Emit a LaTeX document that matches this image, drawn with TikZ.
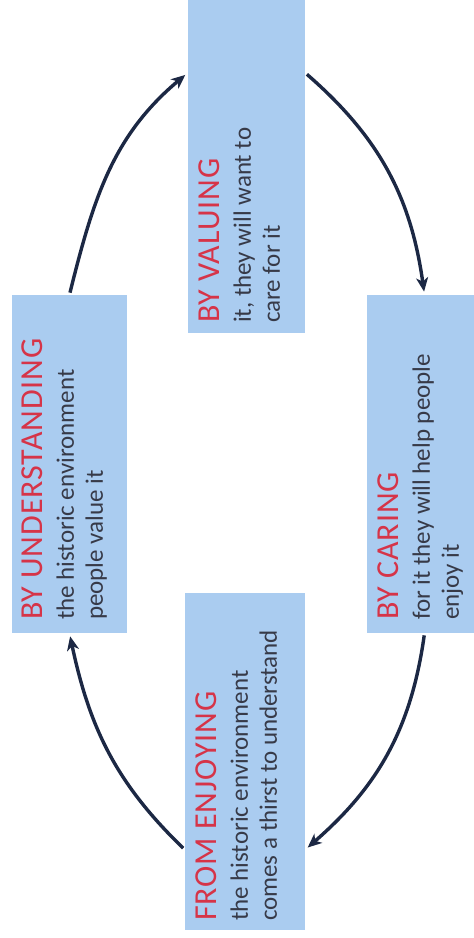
\documentclass[tikz,border=0pt]{standalone}
\usepackage{fontspec}
\setmainfont{Carlito}
\usetikzlibrary{arrows.meta}
\definecolor{boxblue}{RGB}{170,204,240}
\definecolor{headred}{RGB}{214,52,72}
\definecolor{bodygrey}{RGB}{55,58,72}
\definecolor{arrownavy}{RGB}{28,40,68}
\tikzstyle{panel}=[fill=boxblue,inner sep=0pt]
\tikzstyle{blurb}=[rotate=90,anchor=north west,align=left,inner sep=0pt,text=bodygrey,font=\fontsize{12.5}{14.5}\selectfont]
\tikzstyle{loopline}=[draw=arrownavy,line width=1.7pt,-{Stealth[length=7pt,width=6pt,inset=2pt]},shorten >=1.5pt,shorten <=1pt]
\newcommand{\headword}[1]{{\color{headred}\fontsize{16}{16}\selectfont\addfontfeature{LetterSpace=3}#1}}

\begin{document}
\begin{tikzpicture}[x=1pt,y=1pt]
              \path[use as bounding box,fill=white] (0,0) rectangle (237,469);
              % the four panels
              \node[panel,minimum width=58.5pt,minimum height=172pt] (val) at (123.25,388.5) {};
              \node[panel,minimum width=57.5pt,minimum height=169pt] (und) at (34.75,237) {};
              \node[panel,minimum width=57.5pt,minimum height=169pt] (car) at (212.25,237) {};
              \node[panel,minimum width=60pt,minimum height=168.5pt] (enj) at (122.5,88.25) {};
              % their texts, read upwards
              \node[blurb] (val-t) at ([shift={(5.5pt,5pt)}]val.south west)
                {\headword{BY VALUING}\\[1pt] it, they will want to\\ care for it};
              \node[blurb] (und-t) at ([shift={(5pt,6.5pt)}]und.south west)
                {\headword{BY UNDERSTANDING}\\[1pt] the historic environment\\ people value it};
              \node[blurb] (car-t) at ([shift={(5.5pt,6.5pt)}]car.south west)
                {\headword{BY CARING}\\[1pt] for it they will help people\\ enjoy it};
              \node[blurb] (enj-t) at ([shift={(5.5pt,4.5pt)}]enj.south west)
                {\headword{FROM ENJOYING}\\[1pt] the historic environment\\ comes a thirst to understand};
              % the cycle
              \draw[loopline] (und.north) to[out=76,in=220] ([yshift=44pt]val.west);
              \draw[loopline] ([yshift=44pt]val.east) to[out=-41,in=98] (car.north);
              \draw[loopline] (car.south) to[out=-98,in=41] ([yshift=-44pt]enj.east);
              \draw[loopline] ([yshift=-44pt]enj.west) to[out=136,in=-78] (und.south);
            \end{tikzpicture}
\end{document}
